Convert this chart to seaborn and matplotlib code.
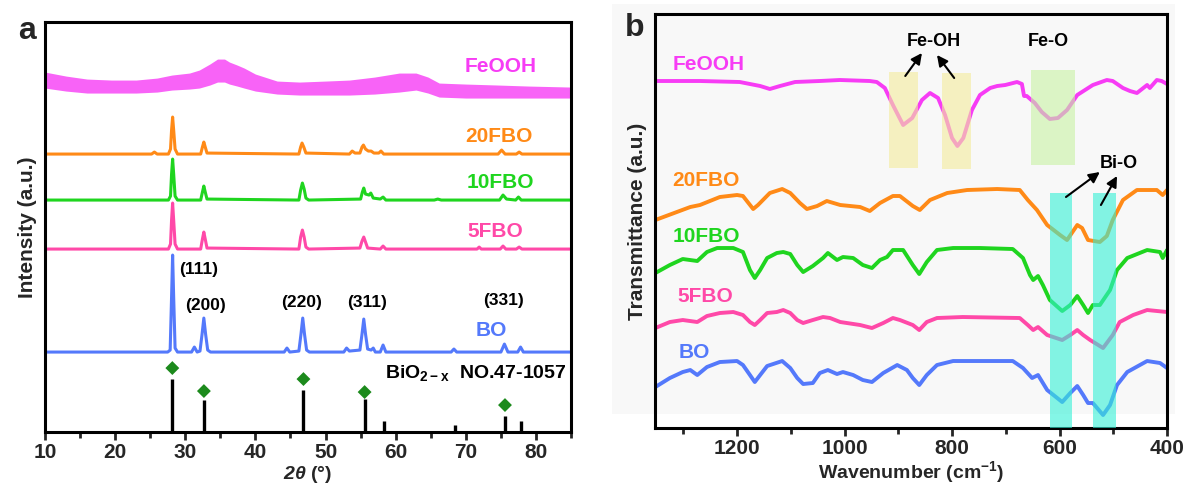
import matplotlib
matplotlib.use("Agg")
import matplotlib.pyplot as plt
import seaborn as sns
from matplotlib.patches import Rectangle

# ---------------- Panel a : XRD (2theta in deg, intensity in a.u.) ----------------
feooh_tt = [10.0, 13.0, 16.0, 19.5, 23.0, 26.0, 28.1, 30.6, 32.0, 33.5, 34.6, 35.6, 36.3, 37.4, 38.4, 40.0, 43.1,
            46.3, 50.0, 53.4, 57.0, 60.5, 62.9, 64.6, 66.2, 70.0, 74.7, 79.0, 85.0]
feooh_hi = [360, 356, 353, 352, 352, 354, 357, 359, 362, 368, 373, 373, 370, 367, 364, 358, 351,
            350, 351, 352, 355, 359, 359, 355, 349, 348, 347, 346, 345]
feooh_lo = [344, 341, 339, 339, 339, 340, 342, 343, 344, 347, 350, 350, 348, 346, 344, 341, 338,
            337, 337, 337, 338, 340, 342, 339, 335, 334, 334, 334, 334]

fbo20_tt = [10, 25.2, 25.6, 26.0, 27.6, 27.9, 28.05, 28.2, 28.35, 28.55, 28.9, 32.2, 32.45, 32.65, 32.85, 33.1,
            46.2, 46.45, 46.65, 46.9, 47.2, 53.4, 53.8, 54.2, 54.9, 55.2, 55.4, 55.7, 56.1, 56.5, 56.9, 57.6, 57.9,
            58.3, 74.6, 75.1, 75.6, 77.2, 77.6, 78.0, 85]
fbo20_i = [278, 278, 280, 278, 278, 283, 302, 315, 302, 283, 278, 278, 285, 290, 285, 279,
           278, 285, 289, 285, 279, 278, 281, 279, 279, 285, 287, 283, 281, 281, 279, 279, 281,
           278, 278, 282, 278, 278, 280, 278, 278]

fbo10_tt = [10, 27.6, 27.9, 28.05, 28.2, 28.35, 28.55, 28.9, 32.2, 32.45, 32.65, 32.85, 33.1,
            46.2, 46.45, 46.7, 46.95, 47.2, 47.6, 55.0, 55.25, 55.45, 55.7, 56.2, 56.45, 56.8, 57.8, 58.2, 58.6,
            65.5, 66.0, 66.5, 74.8, 75.3, 75.8, 77.1, 77.5, 77.9, 85]
fbo10_i = [232, 232, 236, 258, 273, 258, 236, 232, 232, 240, 246, 240, 233,
           232, 242, 249, 243, 234, 232, 233, 240, 244, 238, 237, 239, 234, 233, 235, 232,
           232, 233, 232, 232, 237, 233, 232, 235, 232, 232]

fbo5_tt = [10, 27.6, 27.9, 28.05, 28.2, 28.35, 28.55, 28.9, 32.2, 32.45, 32.65, 32.85, 33.1,
           46.2, 46.45, 46.7, 46.95, 47.2, 47.6, 54.9, 55.2, 55.45, 55.7, 56.0, 57.8, 58.2, 58.6,
           71.6, 71.9, 72.2, 74.9, 75.3, 75.7, 77.2, 77.6, 78.0, 85]
fbo5_i = [183, 183, 188, 212, 229, 212, 188, 183, 183, 193, 200, 193, 184,
          183, 195, 202, 195, 185, 183, 184, 191, 195, 190, 184, 183, 186, 183,
          183, 185, 183, 183, 186, 183, 183, 185, 183, 183]

bo_tt = [10, 20, 27.5, 27.85, 28.05, 28.2, 28.35, 28.55, 28.9, 30.9, 31.3, 31.7, 32.1, 32.4, 32.65, 32.9, 33.2, 33.6,
         44.1, 44.5, 44.9, 46.2, 46.5, 46.75, 47.0, 47.3, 47.7, 52.6, 53.0, 53.4, 54.9, 55.2, 55.45, 55.7, 56.0,
         56.5, 56.8, 57.1, 57.8, 58.2, 58.6, 67.9, 68.3, 68.7, 75.0, 75.5, 76.0, 77.4, 77.8, 78.2, 85]
bo_i = [80, 80, 80, 82, 135, 177, 135, 84, 80, 80, 85, 80, 81, 98, 114, 98, 82, 80,
        80, 84, 80, 81, 98, 114, 98, 82, 80, 80, 84, 81, 82, 98, 113, 98, 83,
        82, 84, 80, 80, 87, 80, 80, 83, 80, 80, 88, 80, 80, 85, 80, 80]

ref_tt = [28.16, 32.66, 46.85, 55.57, 58.27, 68.4, 75.58, 77.9]
ref_i = [53, 32, 42, 33, 11, 7, 16, 11]
marker_tt = [28.16, 32.66, 46.85, 55.57, 75.58]
marker_i = [64, 41, 53, 40, 27]

hkl_labels = ["(111)", "(200)", "(220)", "(311)", "(331)"]
hkl_tt = [31.9, 32.9, 46.6, 55.9, 75.3]
hkl_i = [163, 127, 130, 130, 132]

xrd_names = ["FeOOH", "20FBO", "10FBO", "5FBO", "BO"]
xrd_label_tt = [75.0, 74.7, 74.9, 74.2, 73.7]
xrd_label_i = [366, 296, 250, 201, 102]

# ---------------- Panel b : FTIR (wavenumber cm-1, transmittance a.u.) ----------------
ir_feooh_wn = [1352, 1269, 1195, 1157, 1139, 1120, 1092, 1046, 1009, 953, 940, 925, 910, 891, 874, 856, 841, 826,
               813, 800, 790, 779, 763, 748, 729, 716, 701, 679, 670, 666, 661, 646, 633, 618, 603, 586, 567, 538,
               512, 501, 482, 469, 456, 437, 432, 419, 410, 400]
ir_feooh_t = [347, 347, 346, 342, 339, 342, 346, 347, 348, 347, 346, 340, 323, 303, 310, 328, 335, 330,
              313, 290, 282, 290, 318, 333, 340, 342, 343, 346, 344, 332, 332, 325, 316, 309, 310, 318, 333, 343,
              348, 347, 340, 337, 335, 343, 340, 348, 347, 344]

ir_20_wn = [1352, 1287, 1269, 1232, 1200, 1189, 1170, 1161, 1139, 1116, 1101, 1083, 1070, 1051, 1033, 1008, 971,
            953, 934, 910, 897, 873, 860, 841, 809, 772, 716, 674, 659, 642, 623, 599, 586, 567, 558, 547, 525,
            512, 501, 482, 456, 419, 408, 400]
ir_20_t = [208, 221, 223, 231, 233, 232, 219, 223, 235, 239, 235, 225, 219, 222, 227, 223, 221,
           217, 225, 232, 232, 222, 218, 228, 235, 238, 239, 238, 228, 218, 203, 193, 188, 203, 200, 188, 186,
           192, 208, 228, 238, 238, 233, 238]

ir_10_wn = [1352, 1325, 1301, 1274, 1256, 1237, 1207, 1189, 1176, 1167, 1157, 1144, 1126, 1114, 1101, 1088, 1077,
            1059, 1040, 1031, 1014, 1003, 984, 966, 949, 934, 921, 910, 891, 873, 861, 847, 828, 798, 748, 687,
            668, 655, 649, 640, 631, 618, 595, 580, 567, 556, 547, 538, 525, 506, 493, 474, 437, 413, 408, 400]
ir_10_t = [155, 163, 169, 167, 176, 180, 180, 176, 158, 150, 158, 170, 175, 176, 174, 163, 156,
           162, 170, 175, 168, 171, 170, 163, 160, 168, 171, 178, 178, 163, 154, 166, 178, 180, 180, 179,
           170, 153, 148, 152, 143, 128, 117, 123, 132, 123, 115, 123, 123, 138, 158, 170, 178, 176, 170, 178]

ir_5_wn = [1352, 1325, 1301, 1274, 1256, 1232, 1207, 1189, 1176, 1167, 1157, 1144, 1126, 1114, 1101, 1088, 1077,
           1059, 1040, 1027, 1008, 971, 949, 928, 910, 897, 873, 861, 847, 828, 780, 674, 659, 649, 640, 623,
           595, 580, 567, 556, 543, 519, 501, 488, 463, 437, 400]
ir_5_t = [100, 106, 108, 106, 112, 115, 116, 113, 106, 103, 108, 115, 116, 118, 115, 108, 105,
          108, 111, 110, 106, 103, 100, 105, 110, 108, 103, 98, 106, 110, 111, 110, 103, 98, 101, 93,
          88, 93, 98, 93, 88, 80, 93, 106, 113, 118, 116]

ir_bo_wn = [1352, 1325, 1301, 1287, 1274, 1256, 1232, 1200, 1189, 1176, 1167, 1157, 1144, 1116, 1101, 1088, 1077,
            1059, 1046, 1031, 1014, 1003, 984, 966, 949, 928, 902, 884, 873, 861, 847, 828, 798, 687, 668, 651,
            640, 623, 595, 580, 567, 556, 547, 538, 519, 506, 493, 474, 437, 413, 400]
ir_bo_t = [41, 50, 56, 58, 53, 61, 66, 67, 63, 53, 46, 53, 62, 67, 60, 50, 44,
           45, 55, 58, 54, 56, 53, 48, 46, 55, 63, 58, 50, 43, 53, 63, 67, 67, 60, 50,
           53, 38, 26, 35, 42, 33, 25, 25, 13, 23, 43, 56, 67, 65, 60]

ir_names = ["FeOOH", "20FBO", "10FBO", "5FBO", "BO"]
ir_label_wn = [1320, 1320, 1320, 1311, 1309]
ir_label_t = [363, 248, 192, 132, 76]

band_labels = ["Fe-OH", "Fe-O", "Bi-O"]
band_wn = [833, 620, 489]
band_t = [386, 386, 265]
# highlight boxes: (wn_left, wn_right, t_bottom, t_top)
box_wn_left = [917, 819, 653, 618, 538]
box_wn_right = [863, 765, 571, 577, 495]
box_t_bottom = [260, 259, 263, 0, 0]
box_t_top = [356, 355, 358, 235, 235]
box_colors = ["#f3ec9c", "#f3ec9c", "#c8f2a4", "#33f0d6", "#33f0d6"]
# arrows: tail -> head
arrow_tail_wn = [887, 796, 588, 523]
arrow_tail_t = [352, 350, 231, 223]
arrow_head_wn = [856, 828, 525, 493]
arrow_head_t = [375, 373, 256, 252]

colors = {"FeOOH": "#f73cf5", "20FBO": "#ff8a17", "10FBO": "#1fd51f", "5FBO": "#ff49a8", "BO": "#5479fb"}

# ---------------- style ----------------
sns.set_theme(style="white")
plt.rcParams['font.family'] = ['Liberation Sans', 'DejaVu Sans']
plt.rcParams['font.weight'] = 'bold'
plt.rcParams['mathtext.fontset'] = 'custom'
plt.rcParams['mathtext.rm'] = 'Liberation Sans:bold'
plt.rcParams['mathtext.bf'] = 'Liberation Sans:bold'
plt.rcParams['mathtext.it'] = 'Liberation Sans:bold:italic'
plt.rcParams['mathtext.bfit'] = 'Liberation Sans:bold:italic'

fig = plt.figure(figsize=(11.86, 4.86), dpi=100)
fig.patch.set_facecolor("white")
fig.patches.append(Rectangle((0.516, 0.148), 0.4747, 0.8436, transform=fig.transFigure,
                             facecolor="#f8f8f8", edgecolor="none", zorder=-5))

ax1 = fig.add_axes([0.0379, 0.111, 0.4436, 0.8436])
ax2 = fig.add_axes([0.5523, 0.1193, 0.4317, 0.8519])
ax2.patch.set_alpha(0)
ax1.set_zorder(2)
ax2.set_zorder(2)

LW = 2.2

def style_axes(ax):
    for s in ax.spines.values():
        s.set_linewidth(2.2)
        s.set_color("black")
    ax.tick_params(axis="x", which="major", direction="out", length=6, width=2, labelsize=15, pad=2,
                   bottom=True, top=False)
    ax.tick_params(axis="x", which="minor", direction="out", length=4, width=2, bottom=True, top=False)
    ax.tick_params(axis="y", left=False, right=False, labelleft=False)
    for lab in ax.get_xticklabels():
        lab.set_fontweight("bold")
    ax.grid(False)

# ---- panel a ----
ax1.fill_between(feooh_tt, feooh_lo, feooh_hi, color=colors["FeOOH"], alpha=0.8, lw=0)
sns.lineplot(x=fbo20_tt, y=fbo20_i, ax=ax1, color=colors["20FBO"], lw=LW, sort=False, estimator=None)
sns.lineplot(x=fbo10_tt, y=fbo10_i, ax=ax1, color=colors["10FBO"], lw=LW, sort=False, estimator=None)
sns.lineplot(x=fbo5_tt, y=fbo5_i, ax=ax1, color=colors["5FBO"], lw=LW, sort=False, estimator=None)
sns.lineplot(x=bo_tt, y=bo_i, ax=ax1, color=colors["BO"], lw=LW, sort=False, estimator=None)
ax1.vlines(ref_tt, 0, ref_i, color="black", lw=2.4)
sns.scatterplot(x=marker_tt, y=marker_i, ax=ax1, marker="D", s=50, color="#1c8a1c", edgecolor="none")

for name, x, y in zip(xrd_names, xrd_label_tt, xrd_label_i):
    ax1.text(x, y, name, color=colors[name], fontsize=15, fontweight="bold", ha="center", va="center")
for lab, x, y in zip(hkl_labels, hkl_tt, hkl_i):
    ax1.text(x, y, lab, color="black", fontsize=12.5, fontweight="bold", ha="center", va="center")
ax1.text(84.3, 59, r"BiO$_{\mathbf{2-x}}$  NO.47-1057", color="black", fontsize=14, fontweight="bold",
         ha="right", va="center")

ax1.set_xlim(10, 85)
ax1.set_ylim(0, 410)
ax1.set_xticks([10, 20, 30, 40, 50, 60, 70, 80])
ax1.set_xticks([15, 25, 35, 45, 55, 65, 75, 85], minor=True)
ax1.set_xlabel(r"$\mathbfit{2\theta}$ (°)", fontsize=14, fontweight="bold", labelpad=1)
ax1.set_ylabel("Intensity (a.u.)", fontsize=15, fontweight="bold", labelpad=6)
style_axes(ax1)
fig.text(27 / 1186, 1 - 31 / 486, "a", fontsize=23, fontweight="bold", ha="center", va="center")

# ---- panel b ----
for wn, t, name in [(ir_feooh_wn, ir_feooh_t, "FeOOH"), (ir_20_wn, ir_20_t, "20FBO"),
                    (ir_10_wn, ir_10_t, "10FBO"), (ir_5_wn, ir_5_t, "5FBO"), (ir_bo_wn, ir_bo_t, "BO")]:
    sns.lineplot(x=wn, y=t, ax=ax2, color=colors[name], lw=LW + 0.6, sort=False, estimator=None)

for xl, xr, yb, yt, c in zip(box_wn_left, box_wn_right, box_t_bottom, box_t_top, box_colors):
    ax2.add_patch(Rectangle((xr, yb), xl - xr, yt - yb, facecolor=c, edgecolor="none", alpha=0.6, zorder=5))

for name, x, y in zip(ir_names, ir_label_wn, ir_label_t):
    ax2.text(x, y, name, color=colors[name], fontsize=15, fontweight="bold", ha="left", va="center")
for lab, x, y in zip(band_labels, band_wn, band_t):
    ax2.text(x, y, lab, color="black", fontsize=13, fontweight="bold", ha="center", va="center")
for tx, ty, hx, hy in zip(arrow_tail_wn, arrow_tail_t, arrow_head_wn, arrow_head_t):
    ax2.annotate("", xy=(hx, hy), xytext=(tx, ty),
                 arrowprops=dict(arrowstyle="-|>", color="black", lw=1.5, mutation_scale=16,
                                 shrinkA=0, shrinkB=0), zorder=6)

ax2.set_xlim(1352.6, 400)
ax2.set_ylim(0, 414)
ax2.set_xticks([1200, 1000, 800, 600, 400])
ax2.set_xticks([1300, 1100, 900, 700, 500], minor=True)
ax2.set_xlabel(r"Wavenumber (cm$^{\mathbf{-1}}$)", fontsize=14, fontweight="bold", labelpad=1)
ax2.set_ylabel("Transmittance (a.u.)", fontsize=15, fontweight="bold", labelpad=6)
style_axes(ax2)
fig.text(635 / 1186, 1 - 28 / 486, "b", fontsize=23, fontweight="bold", ha="center", va="center")

fig.savefig("out.png", dpi=100)
